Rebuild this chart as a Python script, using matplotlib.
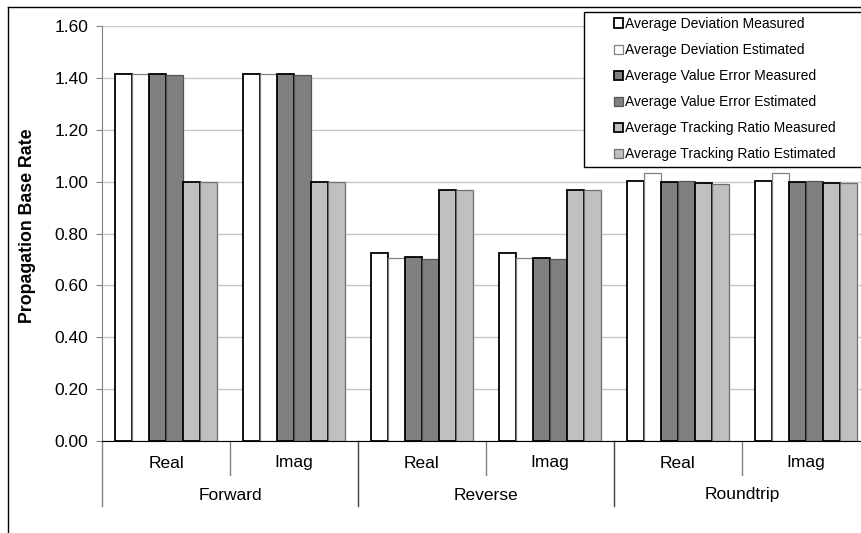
import matplotlib.pyplot as plt
import matplotlib.transforms as mtransforms
from matplotlib.lines import Line2D
from matplotlib.patches import Rectangle
import numpy as np

plt.rcParams['font.family'] = ['Liberation Sans', 'DejaVu Sans']

categories = ['Real', 'Imag', 'Real', 'Imag', 'Real', 'Imag']
groups = ['Forward', 'Reverse', 'Roundtrip']
series = ['Average Deviation Measured', 'Average Deviation Estimated',
          'Average Value Error Measured', 'Average Value Error Estimated',
          'Average Tracking Ratio Measured', 'Average Tracking Ratio Estimated']
dev_measured = [1.414, 1.414, 0.725, 0.725, 1.003, 1.003]
dev_estimated = [1.414, 1.414, 0.707, 0.707, 1.034, 1.034]
ve_measured = [1.414, 1.414, 0.709, 0.705, 0.997, 0.997]
ve_estimated = [1.411, 1.411, 0.703, 0.703, 1.003, 1.003]
tr_measured = [0.999, 0.999, 0.968, 0.968, 0.994, 0.994]
tr_estimated = [0.997, 0.997, 0.968, 0.968, 0.992, 0.995]
values = [dev_measured, dev_estimated, ve_measured, ve_estimated, tr_measured, tr_estimated]

fills = ['white', 'white', '#808080', '#808080', '#c0c0c0', '#c0c0c0']
edges = ['black', '#808080', 'black', '#555555', 'black', '#707070']
lws = [1.3, 0.9, 1.3, 0.9, 1.3, 0.9]

W, H = 861, 533
fig = plt.figure(figsize=(W / 100, H / 100), dpi=100)
ax = fig.add_axes([102 / W, 1 - 441 / H, 768 / W, 415 / H])

x = np.arange(len(categories))
bw = 0.8 / 6
handles = []
for i, vals in enumerate(values):
    b = ax.bar(x - 0.4 + bw * (i + 0.5), vals, bw, color=fills[i], edgecolor=edges[i],
               linewidth=lws[i], zorder=3, label=series[i])
    handles.append(b)

ax.set_xlim(-0.5, 5.5)
ax.set_ylim(0, 1.6)
ax.set_yticks(np.arange(0, 1.61, 0.2))
ax.set_yticklabels(['%.2f' % v for v in np.arange(0, 1.61, 0.2)], fontsize=12.5)
ax.tick_params(axis='y', length=4, color='#808080', pad=6)
ax.set_xticks([])
ax.yaxis.grid(True, color='#c8c8c8', linewidth=1)
ax.set_axisbelow(True)
for s in ['top', 'right']:
    ax.spines[s].set_visible(False)
ax.spines['left'].set_color('#808080')
ax.spines['bottom'].set_color('black')
ax.spines['bottom'].set_zorder(4)

ax.set_ylabel('Propagation Base Rate', fontsize=12.8, fontweight='bold')
ax.yaxis.set_label_coords(-0.086, 0.52)

# multi-level category axis
trans = mtransforms.blended_transform_factory(ax.transData, ax.transAxes)
inner = -34 / 415
outer = -65 / 415
for b in range(7):
    xb = b - 0.5
    if b % 2 == 0:
        c = '#808080' if b == 0 else '#404040'
        ax.plot([xb, xb], [0, outer], color=c, lw=1, transform=trans, clip_on=False)
    else:
        ax.plot([xb, xb], [0, inner], color='#808080', lw=1, transform=trans, clip_on=False)
for i, c in enumerate(categories):
    ax.text(i, -22 / 415, c, transform=trans, ha='center', va='center', fontsize=12.5)
for g, name in enumerate(groups):
    ax.text(2 * g + 0.5, -54 / 415, name, transform=trans, ha='center', va='center',
            fontsize=12.5)

# outer chart border
fig.add_artist(Line2D([8 / W, 1], [1 - 7 / H, 1 - 7 / H], color='black', lw=1))
fig.add_artist(Line2D([8 / W, 8 / W], [0, 1 - 7 / H], color='black', lw=1))

# legend box
fig.add_artist(Rectangle((584 / W, 1 - 167 / H), 290 / W, 155 / H, facecolor='white',
                         edgecolor='black', lw=1, zorder=2))
leg = fig.legend(handles=handles, loc='upper left', bbox_to_anchor=(614 / W, 1 - 17 / H),
                 frameon=False, fontsize=10, handlelength=0.65, handleheight=0.65,
                 handletextpad=0.15, labelspacing=0.87, borderpad=0, borderaxespad=0)
leg.set_zorder(5)

fig.savefig('out.png', dpi=100)
